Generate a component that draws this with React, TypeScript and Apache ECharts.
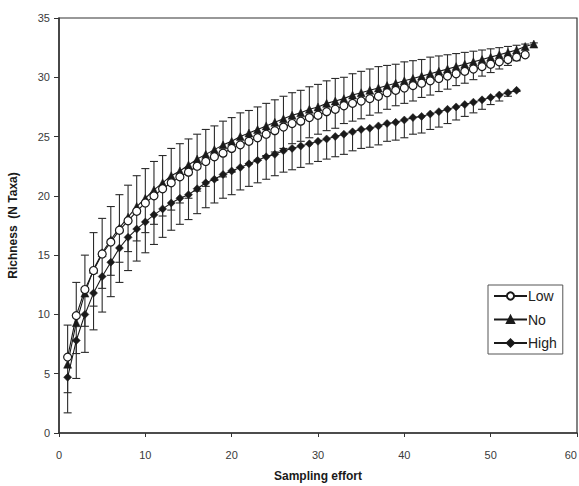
import React, { useEffect, useRef } from "react";
import * as echarts from "echarts";

// Sampling effort runs 1..n for each treatment
const lowMean = [6.4, 9.9, 12.1, 13.7, 15.1, 16.1, 17.1, 17.9, 18.7, 19.4, 20.0, 20.6, 21.1, 21.6, 22.0, 22.5, 22.9, 23.3, 23.6, 24.0, 24.3, 24.6, 24.9, 25.2, 25.5, 25.8, 26.1, 26.3, 26.6, 26.8, 27.1, 27.3, 27.6, 27.8, 28.0, 28.2, 28.4, 28.7, 28.9, 29.1, 29.3, 29.5, 29.7, 29.9, 30.1, 30.3, 30.5, 30.7, 30.9, 31.1, 31.3, 31.5, 31.7, 31.9];
const noMean = [5.8, 9.3, 11.8, 13.8, 15.2, 16.3, 17.3, 18.2, 19.1, 19.8, 20.5, 21.1, 21.7, 22.1, 22.6, 23.1, 23.5, 23.9, 24.3, 24.6, 25.0, 25.3, 25.6, 25.9, 26.2, 26.5, 26.8, 27.0, 27.3, 27.5, 27.8, 28.0, 28.2, 28.5, 28.7, 28.9, 29.1, 29.3, 29.5, 29.7, 29.9, 30.1, 30.3, 30.5, 30.7, 30.9, 31.1, 31.3, 31.5, 31.7, 31.9, 32.1, 32.3, 32.6, 32.8];
const highMean = [4.7, 7.8, 10.0, 11.8, 13.2, 14.4, 15.6, 16.5, 17.2, 17.8, 18.4, 18.9, 19.4, 19.8, 20.1, 20.6, 21.1, 21.4, 21.8, 22.1, 22.4, 22.7, 23.0, 23.3, 23.5, 23.8, 24.0, 24.2, 24.4, 24.6, 24.8, 25.0, 25.2, 25.4, 25.6, 25.7, 25.9, 26.1, 26.2, 26.4, 26.6, 26.7, 26.9, 27.1, 27.3, 27.5, 27.7, 27.9, 28.1, 28.3, 28.5, 28.7, 28.9];

// Error bar half-lengths (No drawn upward, Low and High drawn downward)
const lowErr = [3.0, 3.2, 3.1, 3.0, 2.9, 2.8, 2.7, 2.6, 2.5, 2.5, 2.4, 2.3, 2.3, 2.2, 2.2, 2.1, 2.1, 2.0, 2.0, 2.0, 1.9, 1.9, 1.9, 1.8, 1.8, 1.8, 1.7, 1.7, 1.7, 1.6, 1.6, 1.6, 1.5, 1.5, 1.5, 1.4, 1.4, 1.4, 1.3, 1.3, 1.3, 1.2, 1.2, 1.1, 1.1, 1.0, 1.0, 0.9, 0.8, 0.7, 0.6, 0.5, 0.3, 0.1];
const noErr = [3.3, 3.4, 3.2, 3.1, 2.9, 2.8, 2.8, 2.7, 2.6, 2.5, 2.4, 2.3, 2.3, 2.3, 2.2, 2.1, 2.1, 2.0, 2.0, 2.0, 2.0, 1.9, 1.9, 1.9, 1.9, 1.9, 1.9, 1.9, 1.9, 1.9, 1.9, 1.9, 1.8, 1.8, 1.8, 1.8, 1.8, 1.7, 1.6, 1.6, 1.5, 1.4, 1.4, 1.3, 1.2, 1.1, 1.0, 0.9, 0.8, 0.7, 0.6, 0.5, 0.4, 0.2, 0.1];
const highErr = [3.0, 3.2, 3.2, 3.1, 3.0, 2.9, 2.9, 2.8, 2.7, 2.6, 2.5, 2.4, 2.3, 2.2, 2.1, 2.1, 2.1, 2.0, 2.0, 2.0, 1.9, 1.9, 1.9, 1.9, 1.8, 1.8, 1.8, 1.8, 1.7, 1.7, 1.7, 1.7, 1.7, 1.6, 1.6, 1.6, 1.6, 1.5, 1.5, 1.5, 1.4, 1.4, 1.3, 1.3, 1.2, 1.1, 1.0, 0.9, 0.8, 0.6, 0.5, 0.3, 0.1];

const seriesNames = ["Low", "No", "High"];
const xTicks = [0, 10, 20, 30, 40, 50, 60];
const yTicks = [0, 5, 10, 15, 20, 25, 30, 35];

const INK = "#1a1a1a";

const toPoints = (arr: number[]) => arr.map((v, i) => [i + 1, v]);
const toBars = (mean: number[], err: number[], dir: number) =>
  mean.map((v, i) => [i + 1, v, v + dir * err[i]]);

function errorSeries(data: number[][], z: number) {
  return {
    type: "custom",
    z,
    silent: true,
    data,
    encode: { x: 0, y: [1, 2] },
    renderItem: (params: any, api: any) => {
      const x = api.value(0);
      const p1 = api.coord([x, api.value(1)]);
      const p2 = api.coord([x, api.value(2)]);
      const hw = 4;
      const style = { stroke: "#2a2a2a", lineWidth: 1.1 };
      return {
        type: "group",
        children: [
          { type: "line", shape: { x1: p1[0], y1: p1[1], x2: p2[0], y2: p2[1] }, style },
          { type: "line", shape: { x1: p2[0] - hw, y1: p2[1], x2: p2[0] + hw, y2: p2[1] }, style },
        ],
      };
    },
  };
}

export default function App() {
  const ref = useRef<HTMLDivElement>(null);
  useEffect(() => {
    if (!ref.current) return;
    const chart = echarts.init(ref.current, undefined, { renderer: "svg" });
    const axisLabel = { color: "#3a3a3a", fontSize: 11, fontFamily: "Liberation Sans, Arial, sans-serif" };
    chart.setOption({
      animation: false,
      backgroundColor: "#ffffff",
      grid: {
        left: 59,
        right: 2,
        top: 18,
        bottom: 53,
        outerBoundsMode: "none",
        containLabel: false,
        show: true,
        borderColor: "#333",
        borderWidth: 1.2,
        backgroundColor: "transparent",
      },
      legend: {
        data: seriesNames,
        orient: "vertical",
        left: 488,
        top: 285,
        width: 82,
        padding: [4, 6, 4, 5],
        itemWidth: 33,
        itemHeight: 9,
        itemGap: 9.5,
        backgroundColor: "#fff",
        borderColor: "#555",
        borderWidth: 1,
        borderRadius: 0,
        textStyle: { color: "#222", fontSize: 14, fontFamily: "Liberation Sans, Arial, sans-serif", padding: [0, 6, 0, -4] },
      },
      xAxis: {
        type: "value",
        min: 0,
        max: 60,
        interval: 10,
        name: "Sampling effort",
        nameLocation: "middle",
        nameGap: 37,
        nameTextStyle: { color: "#1a1a1a", fontSize: 12, fontWeight: "bold", fontFamily: "Liberation Sans, Arial, sans-serif" },
        axisLine: { lineStyle: { color: "#333", width: 1.5 } },
        axisTick: { show: true, length: 4, lineStyle: { color: "#333" } },
        axisLabel: {
          ...axisLabel,
          margin: 16,
          alignMaxLabel: "right",
          formatter: (v: number) => (xTicks.includes(v) ? String(v) : ""),
        },
        splitLine: { show: false },
      },
      yAxis: {
        type: "value",
        min: 0,
        max: 35,
        interval: 5,
        name: "Richness  (N Taxa)",
        nameLocation: "middle",
        nameGap: 40,
        nameTextStyle: { color: "#1a1a1a", fontSize: 12, fontWeight: "bold", fontFamily: "Liberation Sans, Arial, sans-serif" },
        axisLine: { show: true, lineStyle: { color: "#333", width: 1.5 } },
        axisTick: { show: true, length: 5, lineStyle: { color: "#333" } },
        axisLabel: { ...axisLabel, margin: 9, formatter: (v: number) => (yTicks.includes(v) ? String(v) : "") },
        splitLine: { show: false },
      },
      series: [
        errorSeries(toBars(highMean, highErr, -1), 1),
        errorSeries(toBars(lowMean, lowErr, -1), 1),
        errorSeries(toBars(noMean, noErr, 1), 1),
        {
          name: "High",
          type: "line",
          z: 3,
          data: toPoints(highMean),
          symbol: "diamond",
          symbolSize: 8,
          showAllSymbol: true,
          lineStyle: { color: INK, width: 1.1 },
          itemStyle: { color: INK, borderColor: INK, borderWidth: 0.5 },
        },
        {
          name: "No",
          type: "line",
          z: 4,
          data: toPoints(noMean),
          symbol: "triangle",
          symbolSize: 8,
          showAllSymbol: true,
          lineStyle: { color: INK, width: 1.1 },
          itemStyle: { color: INK, borderColor: INK, borderWidth: 0.5 },
        },
        {
          name: "Low",
          type: "line",
          z: 5,
          data: toPoints(lowMean),
          symbol: "circle",
          symbolSize: 8,
          showAllSymbol: true,
          lineStyle: { color: INK, width: 1.1 },
          itemStyle: { color: "#ffffff", borderColor: INK, borderWidth: 1.2 },
        },
      ],
    });
    return () => chart.dispose();
  }, []);
  return (
    <div
      ref={ref}
      style={{ position: "absolute", left: 0, top: 0, width: 579, height: 486, background: "#fff" }}
    />
  );
}
